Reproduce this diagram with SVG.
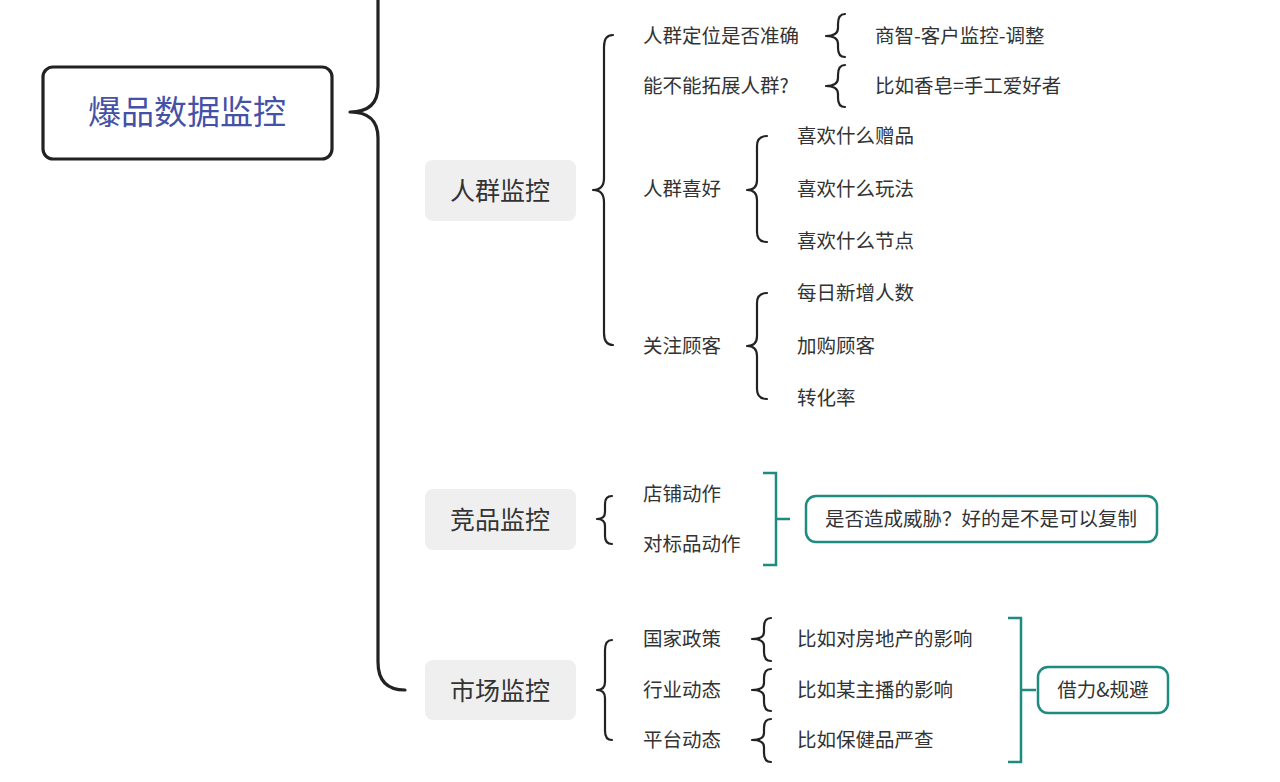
<svg xmlns="http://www.w3.org/2000/svg" width="1280" height="782" viewBox="0 0 1280 782">
<style>
text{font-family:"Noto Sans CJK SC","Noto Sans",sans-serif;dominant-baseline:central;fill:#333}
.t{font-size:19.5px}
.topic{font-size:25px;text-anchor:middle}
.tb{fill:#efefef}
.br{fill:none;stroke:#222;stroke-width:2.2;stroke-linecap:round;stroke-linejoin:round}
.tl{fill:none;stroke:#1f8a7f;stroke-width:2.5}
.bx{fill:#fff;stroke:#1f8a7f;stroke-width:2.5}
</style>
<rect width="1280" height="782" fill="#fff"/>
<g id="connectors">
<path class="br" style="stroke-width:3.2" d="M378,-10 L378,86 Q378,112 350,112 Q378,112 378,138 L378,662 Q378,690 405,690"/>
<path class="br" d="M613,35 Q604,35 604,47 L604,178 Q604,190 593,190 Q604,190 604,202 L604,333 Q604,345 613,345"/>
<path class="br" d="M845,14 Q838,14 838,24 L838,28 Q838,36 826,36 Q838,36 838,44 L838,48 Q838,57 845,57"/>
<path class="br" d="M845,65 Q838,65 838,75 L838,78 Q838,86 826,86 Q838,86 838,94 L838,98 Q838,107 845,107"/>
<path class="br" d="M767,136 Q757,136 757,146 L757,180 Q757,190 747,190 Q757,190 757,200 L757,232 Q757,242 767,242"/>
<path class="br" d="M767,293 Q757,293 757,303 L757,336 Q757,346 747,346 Q757,346 757,356 L757,389 Q757,399 767,399"/>
<path class="br" d="M612,496 Q605,496 605,504 L605,512 Q605,519 597,519 Q605,519 605,526 L605,536 Q605,544 612,544"/>
<path class="br" d="M612,640 Q605,640 605,650 L605,682 Q605,690 597,690 Q605,690 605,698 L605,731 Q605,740 612,740"/>
<path class="br" d="M771,618 Q764,618 764,627 L764,632 Q764,639 752,639 Q764,639 764,646 L764,652 Q764,661 771,661"/>
<path class="br" d="M771,669 Q764,669 764,678 L764,683 Q764,690 752,690 Q764,690 764,697 L764,702 Q764,711 771,711"/>
<path class="br" d="M771,719 Q764,719 764,728 L764,733 Q764,740 752,740 Q764,740 764,747 L764,753 Q764,762 771,762"/>
<path class="tl" d="M763,473 L776,473 L776,565 L763,565 M776,519 L790,519"/>
<path class="tl" d="M1008,618 L1021,618 L1021,762 L1008,762 M1021,690 L1036,690"/>
</g>
<g id="root">
<rect x="43" y="67" width="289" height="92" rx="10" fill="#fff" stroke="#222" stroke-width="3.2"/>
<text x="187" y="110" style="font-size:33px;text-anchor:middle;fill:#4551a6">爆品数据监控</text>
</g>
<g id="topic-renqun">
<rect class="tb" x="425" y="160" width="151" height="61" rx="8"/>
<text class="topic" x="500" y="188.5">人群监控</text>
</g>
<g id="topic-jingpin">
<rect class="tb" x="425" y="489" width="151" height="61" rx="8"/>
<text class="topic" x="500" y="517.5">竞品监控</text>
</g>
<g id="topic-shichang">
<rect class="tb" x="425" y="660" width="151" height="60" rx="8"/>
<text class="topic" x="500" y="688.5">市场监控</text>
</g>
<g id="renqun-items">
<text class="t" x="643" y="34.5">人群定位是否准确</text>
<text class="t" x="875" y="34.5">商智-客户监控-调整</text>
<text class="t" x="643" y="84.5">能不能拓展人群?</text>
<text class="t" x="875" y="84.5">比如香皂=手工爱好者</text>
<text class="t" x="643" y="187.5">人群喜好</text>
<text class="t" x="797" y="134.5">喜欢什么赠品</text>
<text class="t" x="797" y="187.5">喜欢什么玩法</text>
<text class="t" x="797" y="239.5">喜欢什么节点</text>
<text class="t" x="643" y="344.5">关注顾客</text>
<text class="t" x="797" y="291.5">每日新增人数</text>
<text class="t" x="797" y="344.5">加购顾客</text>
<text class="t" x="797" y="396.5">转化率</text>
</g>
<g id="jingpin-items">
<text class="t" x="643" y="492.5">店铺动作</text>
<text class="t" x="643" y="542.5">对标品动作</text>
</g>
<g id="jingpin-summary">
<rect class="bx" x="806" y="496" width="351" height="46" rx="10"/>
<text class="t" x="981" y="517.5" text-anchor="middle">是否造成威胁？好的是不是可以复制</text>
</g>
<g id="shichang-items">
<text class="t" x="643" y="637.5">国家政策</text>
<text class="t" x="797" y="637.5">比如对房地产的影响</text>
<text class="t" x="643" y="688.5">行业动态</text>
<text class="t" x="797" y="688.5">比如某主播的影响</text>
<text class="t" x="643" y="738.5">平台动态</text>
<text class="t" x="797" y="738.5">比如保健品严查</text>
</g>
<g id="shichang-summary">
<rect class="bx" x="1038" y="667" width="130" height="46" rx="10"/>
<text class="t" x="1103" y="688.5" text-anchor="middle">借力&amp;规避</text>
</g>
</svg>
